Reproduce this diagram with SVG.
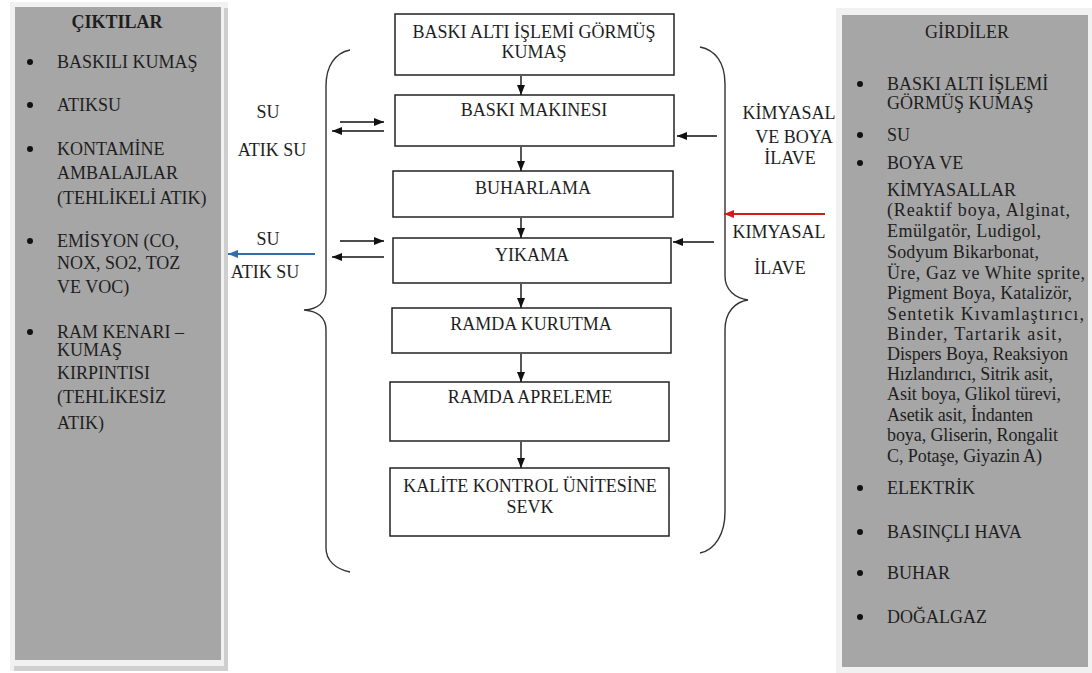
<svg xmlns="http://www.w3.org/2000/svg" width="1092" height="673" viewBox="0 0 1092 673" font-family="Liberation Serif, DejaVu Serif, serif">
<style>
text{font-family:'Liberation Serif','Times New Roman','DejaVu Serif',serif;font-size:18px;fill:#1e1e1e}
.c{text-anchor:middle}
.b{font-weight:bold}
.box{fill:#fff;stroke:#222;stroke-width:1.5}
.panel{fill:#a6a6a6}
.frame{fill:#f1f1f1}
.ln{stroke:#111;stroke-width:1.4;fill:none}
.brace{stroke:#333;stroke-width:1.4;fill:none}
.dot{fill:#111}
</style>
<defs>
<marker id="ah" markerUnits="userSpaceOnUse" markerWidth="10" markerHeight="10" viewBox="0 0 10 10" refX="10" refY="5" orient="auto"><path d="M0,1 L10,5 L0,9 Z" fill="#111"/></marker>
<marker id="ahb" markerUnits="userSpaceOnUse" markerWidth="10" markerHeight="10" viewBox="0 0 10 10" refX="10" refY="5" orient="auto"><path d="M0,1 L10,5 L0,9 Z" fill="#2f6faf"/></marker>
<marker id="ahr" markerUnits="userSpaceOnUse" markerWidth="10" markerHeight="10" viewBox="0 0 10 10" refX="10" refY="5" orient="auto"><path d="M0,1 L10,5 L0,9 Z" fill="#d01c1c"/></marker>
</defs>
<rect width="1092" height="673" fill="#fff"/>

<g id="outputs">
<rect class="frame" x="10" y="2" width="218" height="669"/>
<rect x="224" y="8" width="4" height="663" fill="#cfcfcf"/>
<rect x="14" y="666" width="214" height="5" fill="#cfcfcf"/>
<rect class="panel" x="15" y="7" width="206" height="653"/>
<text class="c b" x="117" y="28">ÇIKTILAR</text>
<circle class="dot" cx="30" cy="62" r="3"/><text x="57" y="68">BASKILI KUMAŞ</text>
<circle class="dot" cx="30" cy="105" r="3"/><text x="57" y="111">ATIKSU</text>
<circle class="dot" cx="30" cy="149" r="3"/><text x="57" y="155">KONTAMİNE</text>
<text x="57" y="179">AMBALAJLAR</text>
<text x="57" y="204">(TEHLİKELİ ATIK)</text>
<circle class="dot" cx="30" cy="241" r="3"/><text x="57" y="247">EMİSYON (CO,</text>
<text x="57" y="269">NOX, SO2, TOZ</text>
<text x="57" y="293">VE VOC)</text>
<circle class="dot" cx="30" cy="332" r="3"/><text x="57" y="338">RAM KENARI –</text>
<text x="57" y="356">KUMAŞ</text>
<text x="57" y="379">KIRPINTISI</text>
<text x="57" y="403">(TEHLİKESİZ</text>
<text x="57" y="429">ATIK)</text>
</g>

<g id="inputs">
<rect class="frame" x="836" y="8" width="256" height="665"/>
<rect class="panel" x="842" y="15" width="246" height="652"/>
<text class="c" x="967" y="38">GİRDİLER</text>
<circle class="dot" cx="860" cy="84" r="3"/><text x="887" y="90">BASKI ALTI İŞLEMİ</text>
<text x="887" y="109">GÖRMÜŞ KUMAŞ</text>
<circle class="dot" cx="860" cy="135" r="3"/><text x="887" y="141">SU</text>
<circle class="dot" cx="860" cy="163" r="3"/><text x="887" y="169">BOYA VE</text>
<text x="887" y="196">KİMYASALLAR</text>
<text x="887" y="216" textLength="183">(Reaktif boya, Alginat,</text>
<text x="887" y="237" textLength="154">Emülgatör, Ludigol,</text>
<text x="887" y="258" textLength="152">Sodyum Bikarbonat,</text>
<text x="887" y="279" textLength="198">Üre, Gaz ve White sprite,</text>
<text x="887" y="299" textLength="185">Pigment Boya, Katalizör,</text>
<text x="887" y="320" textLength="197">Sentetik Kıvamlaştırıcı,</text>
<text x="887" y="340" textLength="175">Binder, Tartarik asit,</text>
<text x="887" y="360" textLength="181">Dispers Boya, Reaksiyon</text>
<text x="887" y="380" textLength="166">Hızlandırıcı, Sitrik asit,</text>
<text x="887" y="400" textLength="174">Asit boya, Glikol türevi,</text>
<text x="887" y="421" textLength="146">Asetik asit, İndanten</text>
<text x="887" y="441" textLength="171">boya, Gliserin, Rongalit</text>
<text x="887" y="462" textLength="155">C, Potaşe, Giyazin A)</text>
<circle class="dot" cx="860" cy="488" r="3"/><text x="887" y="494">ELEKTRİK</text>
<circle class="dot" cx="860" cy="532" r="3"/><text x="887" y="538">BASINÇLI HAVA</text>
<circle class="dot" cx="860" cy="573" r="3"/><text x="887" y="579">BUHAR</text>
<circle class="dot" cx="860" cy="617" r="3"/><text x="887" y="623">DOĞALGAZ</text>
</g>

<g id="n1"><rect class="box" x="395" y="14" width="279" height="61"/><text class="c" x="534" y="38">BASKI ALTI İŞLEMİ GÖRMÜŞ</text><text class="c" x="534" y="58">KUMAŞ</text></g>
<g id="n2"><rect class="box" x="395" y="95" width="279" height="51"/><text class="c" x="534" y="116">BASKI MAKINESI</text></g>
<g id="n3"><rect class="box" x="393" y="171" width="280" height="46"/><text class="c" x="533" y="194">BUHARLAMA</text></g>
<g id="n4"><rect class="box" x="393" y="238" width="278" height="45"/><text class="c" x="532" y="261">YIKAMA</text></g>
<g id="n5"><rect class="box" x="392" y="308" width="279" height="45"/><text class="c" x="531" y="330">RAMDA KURUTMA</text></g>
<g id="n6"><rect class="box" x="390" y="382" width="279" height="59"/><text class="c" x="530" y="403">RAMDA APRELEME</text></g>
<g id="n7"><rect class="box" x="390" y="468" width="279" height="68"/><text class="c" x="530" y="492">KALİTE KONTROL ÜNİTESİNE</text><text class="c" x="530" y="513">SEVK</text></g>

<g id="labels">
<text class="c" x="268" y="118">SU</text>
<text class="c" x="272" y="156">ATIK SU</text>
<text class="c" x="268" y="245">SU</text>
<text class="c" x="265" y="278">ATIK SU</text>
<text class="c" x="789" y="119">KİMYASAL</text>
<text class="c" x="794" y="143">VE BOYA</text>
<text class="c" x="790" y="164">İLAVE</text>
<text class="c" x="779" y="238">KIMYASAL</text>
<text class="c" x="780" y="274">İLAVE</text>
</g>

<g id="connectors">
<path class="brace" d="M350,50 C335,53 326,66 326,86 L326,290 C326,302 318,309 304,310 C318,311 326,318 326,330 L326,548 C326,560 335,569 350,572"/>
<path class="brace" d="M700,47 C715,50 725,62 725,84 L725,276 C725,290 735,298 748,300 C735,302 725,312 725,330 L725,512 C725,534 715,550 700,553"/>
<line class="ln" x1="521" y1="76" x2="521" y2="95" marker-end="url(#ah)"/>
<line class="ln" x1="521" y1="147" x2="521" y2="171" marker-end="url(#ah)"/>
<line class="ln" x1="521" y1="218" x2="521" y2="238" marker-end="url(#ah)"/>
<line class="ln" x1="521" y1="284" x2="521" y2="308" marker-end="url(#ah)"/>
<line class="ln" x1="521" y1="354" x2="521" y2="382" marker-end="url(#ah)"/>
<line class="ln" x1="521" y1="442" x2="521" y2="468" marker-end="url(#ah)"/>
<line class="ln" x1="340" y1="122" x2="384" y2="122" marker-end="url(#ah)"/>
<line class="ln" x1="384" y1="131" x2="332" y2="131" marker-end="url(#ah)"/>
<line class="ln" x1="340" y1="241" x2="384" y2="241" marker-end="url(#ah)"/>
<line class="ln" x1="384" y1="257" x2="332" y2="257" marker-end="url(#ah)"/>
<line x1="315" y1="254" x2="228" y2="254" stroke="#2f6faf" stroke-width="2" marker-end="url(#ahb)"/>
<line class="ln" x1="717" y1="136" x2="677" y2="136" marker-end="url(#ah)"/>
<line class="ln" x1="714" y1="242" x2="673" y2="242" marker-end="url(#ah)"/>
<line x1="825" y1="214" x2="724" y2="214" stroke="#d01c1c" stroke-width="2" marker-end="url(#ahr)"/>
</g>
</svg>
